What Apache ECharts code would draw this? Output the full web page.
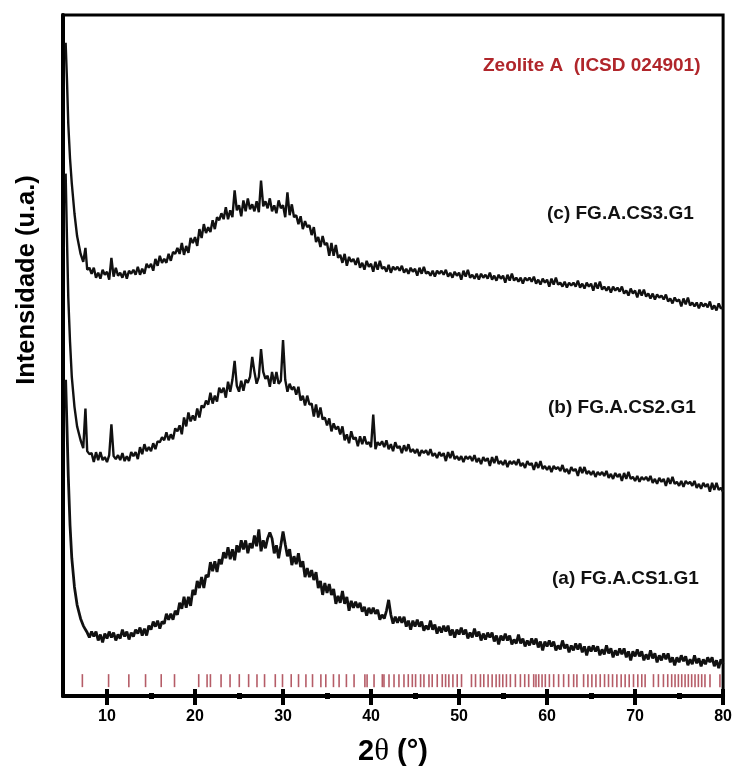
<!DOCTYPE html>
<html>
<head>
<meta charset="utf-8">
<script src="https://cdn.jsdelivr.net/npm/echarts@6/dist/echarts.min.js"></script>
<style>html,body{margin:0;padding:0;background:#fff}#chart{width:735px;height:772px}</style>
</head>
<body>
<div id="chart"></div>
<script>
// 2θ sampling positions (degrees)
const twoTheta = [5.3,5.45,5.6,5.8,6.0,6.3,6.6,7.0,7.3,7.55,7.75,
8,8.25,8.5,8.75,9,9.25,9.5,9.75,10,10.25,10.5,10.75,11,11.25,11.5,11.75,12,12.25,12.5,12.75,
13,13.25,13.5,13.75,14,14.25,14.5,14.75,15,15.25,15.5,15.75,16,16.25,16.5,16.75,17,17.25,17.5,17.75,
18,18.25,18.5,18.75,19,19.25,19.5,19.75,20,20.25,20.5,20.75,21,21.25,21.5,21.75,22,22.25,22.5,22.75,
23,23.25,23.5,23.75,24,24.25,24.5,24.75,25,25.25,25.5,25.75,26,26.25,26.5,26.75,27,27.25,27.5,27.75,
28,28.25,28.5,28.75,29,29.25,29.5,29.75,30,30.25,30.5,30.75,31,31.25,31.5,31.75,32,32.25,32.5,32.75,
33,33.25,33.5,33.75,34,34.25,34.5,34.75,35,35.25,35.5,35.75,36,36.25,36.5,36.75,37,37.25,37.5,37.75,
38,38.25,38.5,38.75,39,39.25,39.5,39.75,40,40.25,40.5,40.75,41,41.25,41.5,41.75,42,42.25,42.5,42.75,
43,43.25,43.5,43.75,44,44.25,44.5,44.75,45,45.25,45.5,45.75,46,46.25,46.5,46.75,47,47.25,47.5,47.75,
48,48.25,48.5,48.75,49,49.25,49.5,49.75,50,50.25,50.5,50.75,51,51.25,51.5,51.75,52,52.25,52.5,52.75,
53,53.25,53.5,53.75,54,54.25,54.5,54.75,55,55.25,55.5,55.75,56,56.25,56.5,56.75,57,57.25,57.5,57.75,
58,58.25,58.5,58.75,59,59.25,59.5,59.75,60,60.25,60.5,60.75,61,61.25,61.5,61.75,62,62.25,62.5,62.75,
63,63.25,63.5,63.75,64,64.25,64.5,64.75,65,65.25,65.5,65.75,66,66.25,66.5,66.75,67,67.25,67.5,67.75,
68,68.25,68.5,68.75,69,69.25,69.5,69.75,70,70.25,70.5,70.75,71,71.25,71.5,71.75,72,72.25,72.5,72.75,
73,73.25,73.5,73.75,74,74.25,74.5,74.75,75,75.25,75.5,75.75,76,76.25,76.5,76.75,77,77.25,77.5,77.75,
78,78.25,78.5,78.75,79,79.25,79.5,79.75,80];

// (c) FG.A.CS3.G1 (stacked offset, a.u.)
const seriesC = [659,622,577,542,517,487,464,446,438,452,430,
432,426,432,422,427,421,430,425,428,420,442,423,432,424,427,422,429,421,429,426,
430,425,433,425,431,426,436,432,436,429,441,434,444,437,441,437,446,439,448,446,
452,446,457,445,454,447,462,457,463,454,471,462,476,467,473,468,480,471,483,480,
487,481,493,481,490,483,510,490,495,484,500,489,502,491,496,489,499,488,520,494,
499,492,502,489,495,487,500,492,495,483,508,485,496,483,485,476,484,471,479,473,
475,465,473,458,463,453,464,455,457,444,457,444,455,442,445,437,446,434,443,438,
441,435,442,432,437,430,439,433,436,428,438,430,439,431,433,428,435,427,433,430,
433,429,434,427,431,426,432,428,431,424,432,426,433,426,428,424,429,423,429,426,
429,425,430,423,427,422,428,424,427,420,429,423,430,422,425,421,426,420,426,422,
425,421,427,420,424,419,425,421,424,417,425,419,426,419,422,418,422,416,422,419,
422,418,423,416,420,415,421,417,420,413,421,415,422,415,417,413,418,412,417,414,
417,413,419,412,416,411,417,413,416,409,417,411,418,410,413,409,413,407,413,409,
412,408,413,406,409,404,411,406,409,402,410,404,410,403,406,401,406,400,405,402,
404,400,405,398,401,396,402,398,400,393,401,395,402,394,397,393,397,391,397,393,
396,392,398,390,394,389,396,391,392];

// (b) FG.A.CS2.G1 (stacked offset, a.u.)
const seriesB = [527,462,402,357,322,292,272,258,250,290,247,
244,245,236,246,238,246,238,241,236,243,274,242,239,243,238,245,237,242,237,246,
242,246,239,251,244,254,247,251,247,255,249,257,256,261,258,266,258,264,259,270,
267,273,264,281,272,286,277,283,278,290,281,293,291,298,294,306,295,303,297,311,
306,311,301,317,307,319,338,313,307,318,308,319,316,322,342,327,315,322,350,327,
320,323,312,327,315,327,315,318,359,319,307,315,309,312,304,312,298,303,293,303,
294,295,282,294,281,291,279,281,273,280,267,275,269,272,264,272,258,264,255,267,
259,261,252,262,254,262,254,256,251,284,249,256,253,257,251,258,249,254,247,256,
250,252,245,253,247,254,246,249,245,249,242,248,245,248,243,249,242,245,240,246,
242,245,237,246,240,247,239,242,238,242,236,242,239,242,237,243,236,240,234,241,
237,240,232,241,235,242,234,237,233,238,231,237,234,237,233,239,232,235,230,237,
233,235,228,236,230,237,229,232,228,232,226,232,229,231,227,233,226,229,224,231,
227,229,222,231,225,231,224,227,223,227,221,226,223,226,222,227,220,224,219,225,
221,224,217,225,219,226,219,221,217,222,216,221,218,221,217,222,215,219,214,220,
216,219,212,220,214,221,214,216,212,217,211,217,214,216,212,217,210,214,209,215,
211,214,206,215,208,215,208,210,206];

// (a) FG.A.CS1.G1 (a.u.)
const seriesA = [319,272,222,172,139,110,92,78,71,67,64,
59,65,60,65,56,62,54,63,58,65,59,64,56,62,58,67,60,65,57,64,
60,67,63,69,61,68,61,71,67,75,70,76,68,75,73,83,77,83,77,86,
82,94,88,100,89,100,91,107,102,116,109,120,109,122,120,135,126,136,125,138,
133,145,139,150,138,148,137,152,145,157,148,157,144,154,149,162,151,168,146,157,
149,159,165,159,144,152,139,152,166,153,141,148,132,141,133,144,130,136,120,129,
120,127,117,125,109,116,102,114,104,113,102,108,93,101,94,106,93,100,86,96,
89,95,89,94,85,90,81,89,83,89,83,87,77,82,78,86,97,82,73,80,
74,80,74,80,70,76,67,76,70,77,70,75,66,71,67,76,67,72,63,70,
64,71,65,71,61,67,59,67,62,69,62,67,58,64,59,68,60,65,56,63,
57,64,59,64,55,61,52,61,56,63,56,61,52,57,53,62,53,58,50,56,
51,58,52,58,49,55,46,55,50,56,50,55,46,51,47,56,48,52,44,51,
46,53,47,53,44,50,41,50,45,51,45,50,41,47,42,51,43,48,39,46,
41,48,42,48,39,45,36,45,40,47,40,45,36,42,37,46,38,43,34,41,
36,43,37,43,34,39,31,39,34,41,35,40,31,37,32,41,33,38,30,37,
32,39,34,39,30,36,28,37,32];

// Zeolite A (ICSD 024901) reference reflection positions (2θ)
const zeoliteRefs = [7.2,10.18,12.48,14.38,16.16,17.67,20.42,21.37,21.75,22.96,23.98,25.03,26.09,27.04,27.9,
29.12,29.94,30.93,31.76,32.6,33.35,34.3,34.86,35.73,36.37,37.2,38.07,39.3,39.55,40.34,41.28,
41.47,42.04,42.61,43.17,43.74,44.23,44.69,45.06,45.63,46.01,46.58,46.95,47.52,48.09,48.47,48.84,49.3,49.79,50.28,
51.41,51.87,52.43,52.81,53.3,53.76,54.21,54.59,54.97,55.38,55.83,56.4,56.97,57.46,57.91,
58.48,58.74,59.05,59.43,59.8,60.26,60.75,61.31,61.88,62.45,63.02,63.39,
64.15,64.64,65.09,65.55,66.04,66.53,66.98,67.44,67.93,68.42,68.87,69.33,69.82,70.31,70.76,71.14,
72.09,72.65,73.22,73.71,74.16,74.54,74.92,75.3,75.68,76.05,76.43,76.81,77.19,77.57,77.94,78.51,79.64];
const refLevel = 15.5;

// axis ticks
const majorTicks = [10,20,30,40,50,60,70,80];
const minorTicks = [15,25,35,45,55,65,75];

const sampleLabels = ['(c) FG.A.CS3.G1','(b) FG.A.CS2.G1','(a) FG.A.CS1.G1'];
const refLabel = 'Zeolite A  (ICSD 024901)';
const yTitle = 'Intensidade (u.a.)';

const FONT = '"Liberation Sans", Arial, Helvetica, sans-serif';
const chart = echarts.init(document.getElementById('chart'), null, {renderer:'canvas'});

function pairs(vals){ return twoTheta.map((x,i)=>[x, vals[i]]); }

function xAx(extra){
  return Object.assign({
    type:'value', min:5, max:80, position:'bottom', gridIndex:0,
    splitLine:{show:false},
    axisLine:{show:false},
    axisLabel:{show:false},
    axisTick:{show:false}
  }, extra);
}

const lineSeries = (name, vals, w) => ({
  type:'line', name:name, data:pairs(vals), showSymbol:false, symbol:'none', clip:true,
  sampling:null, lineStyle:{color:'#111', width:w}, z:3
});

const option = {
  backgroundColor:'#fff',
  animation:false,
  grid:{left:63, right:10, top:15, bottom:70, show:true, borderColor:'#000', borderWidth:3, backgroundColor:'transparent'},
  xAxis:[
    xAx({
      axisLine:{show:true, onZero:false, lineStyle:{color:'#000', width:4}},
      axisTick:{show:true, inside:false, length:9, customValues:majorTicks, lineStyle:{color:'#000', width:4}},
      axisLabel:{show:true, customValues:majorTicks, color:'#000', fontWeight:'bold', fontSize:16, fontFamily:FONT, margin:13},
      name:'{s|2}{t|θ}{s| (°)}',
      nameLocation:'middle', nameGap:40,
      nameTextStyle:{rich:{
        s:{fontFamily:FONT, fontWeight:'bold', fontSize:29, color:'#000'},
        t:{fontFamily:'"Liberation Serif", "Times New Roman", serif', fontSize:31, color:'#000'}
      }}
    }),
    xAx({axisTick:{show:true, inside:true, length:7, customValues:majorTicks, lineStyle:{color:'#000', width:4}}}),
    xAx({axisTick:{show:true, inside:false, length:3, customValues:minorTicks, lineStyle:{color:'#000', width:5}}}),
    xAx({axisTick:{show:true, inside:true, length:3, customValues:minorTicks, lineStyle:{color:'#000', width:5}}})
  ],
  yAxis:{
    type:'value', min:0, max:687,
    axisLine:{show:true, onZero:false, lineStyle:{color:'#000', width:4}},
    axisTick:{show:false}, axisLabel:{show:false}, splitLine:{show:false}
  },
  series:[
    lineSeries(sampleLabels[0], seriesC, 2.4),
    lineSeries(sampleLabels[1], seriesB, 2.4),
    lineSeries(sampleLabels[2], seriesA, 2.8),
    {type:'scatter', name:refLabel, data:zeoliteRefs.map(x=>[x, refLevel]), symbol:'rect', symbolSize:[1.6,13],
     itemStyle:{color:'#a8404c', opacity:0.85}, silent:true, z:2}
  ],
  graphic:[
    {type:'text', x:483, y:66, style:{text:refLabel, fill:'#b0262b', font:'bold 19px '+FONT, textVerticalAlign:'middle'}},
    {type:'text', x:547, y:214, style:{text:sampleLabels[0], fill:'#111', font:'bold 19px '+FONT, textVerticalAlign:'middle'}},
    {type:'text', x:548, y:408, style:{text:sampleLabels[1], fill:'#111', font:'bold 19px '+FONT, textVerticalAlign:'middle'}},
    {type:'text', x:552, y:579, style:{text:sampleLabels[2], fill:'#111', font:'bold 19px '+FONT, textVerticalAlign:'middle'}},
    {type:'text', x:27, y:280, rotation:Math.PI/2, style:{text:yTitle, fill:'#000', font:'bold 25.5px '+FONT, textAlign:'center', textVerticalAlign:'middle'}}
  ]
};
chart.setOption(option);
</script>
</body>
</html>
